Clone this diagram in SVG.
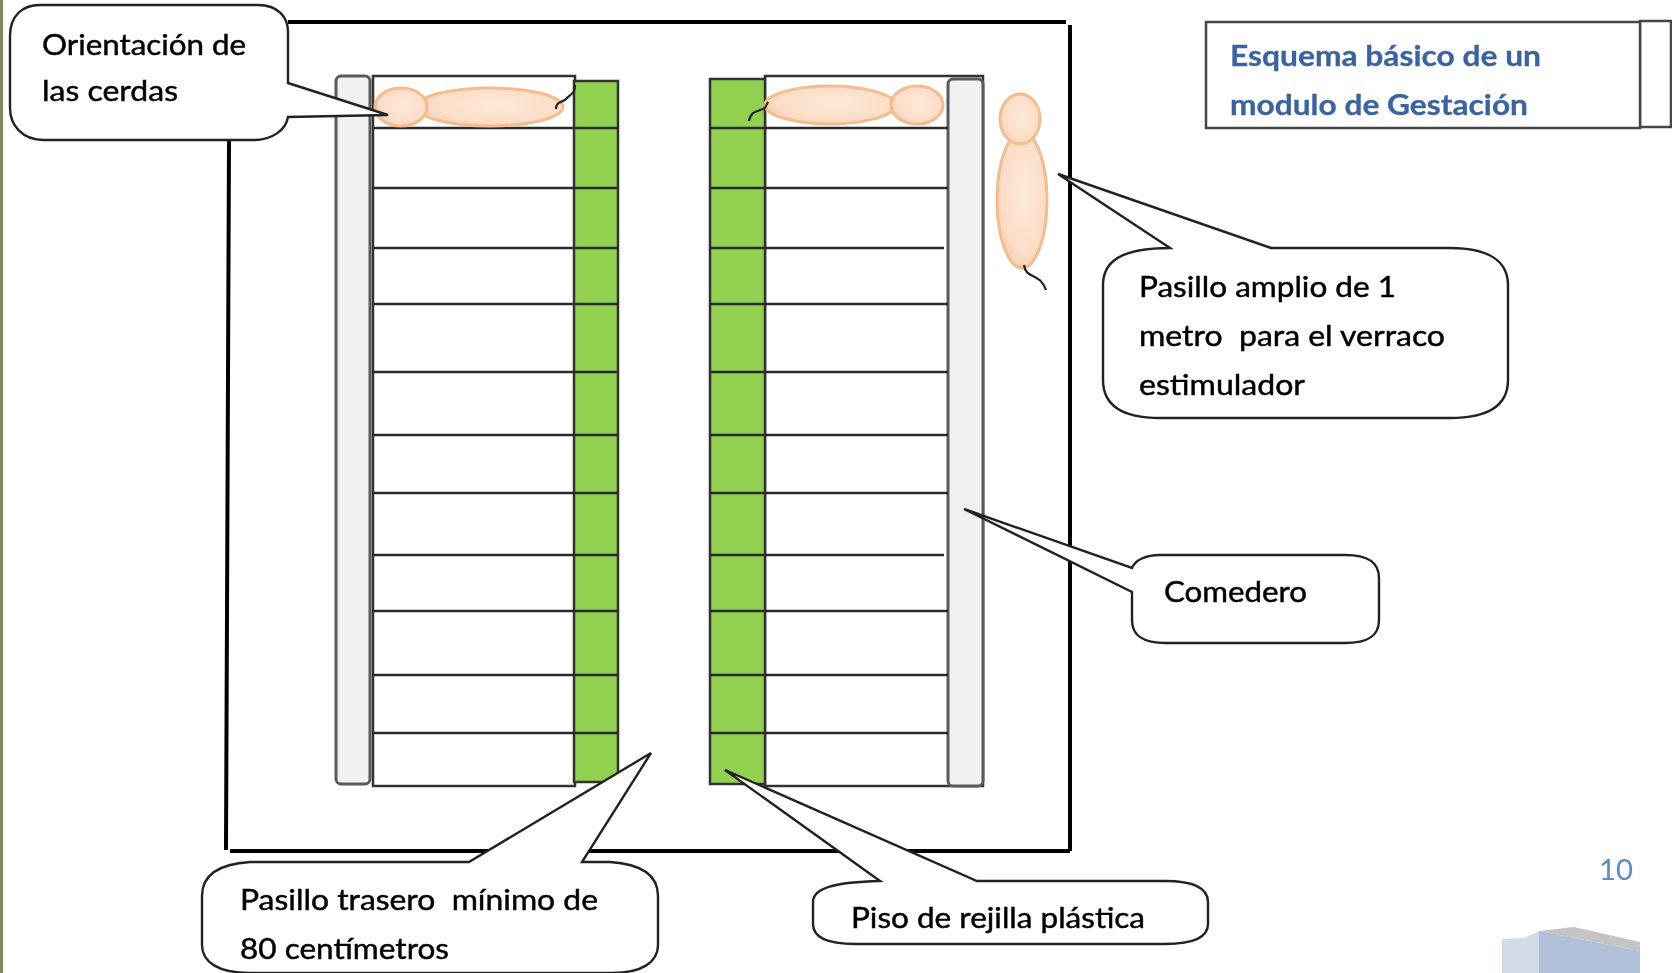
<svg xmlns="http://www.w3.org/2000/svg" width="1672" height="973" viewBox="0 0 1672 973">
<style>
.wall{stroke:#000;stroke-width:4;fill:none}
.bar{fill:#f1f1f1;stroke:#5a5a5a;stroke-width:3}
.green{fill:#92d050;stroke:#333;stroke-width:2.5}
.stall{fill:#fff;stroke:#333;stroke-width:2.5}
.row{stroke:#2a2a2a;stroke-width:2.5;fill:none}
.call{fill:#fff;stroke:#222;stroke-width:2.4}
.pig{fill:url(#skin);stroke:#f3bd90;stroke-width:3}
.tail{fill:none;stroke:#222;stroke-width:2.2}
.t{font-family:"Lato","Carlito","Liberation Sans",sans-serif;font-size:29px;fill:#000;stroke:#000;stroke-width:0.45;white-space:pre}
.h{font-family:"Lato","Carlito","Liberation Sans",sans-serif;font-size:29px;font-weight:700;fill:#3a64a2;stroke:#3a64a2;stroke-width:0.3}
.box{fill:#fff;stroke:#444;stroke-width:2.5}
</style>
<defs>
<radialGradient id="skin" cx="55%" cy="45%" r="60%"><stop offset="0" stop-color="#fde9d9"/><stop offset="0.75" stop-color="#fbddc6"/><stop offset="1" stop-color="#f8cba8"/></radialGradient>
<filter id="soft" x="-2%" y="-2%" width="104%" height="104%"><feGaussianBlur stdDeviation="0.6"/></filter>
</defs>
<rect width="1672" height="973" fill="#fff"/>
<g filter="url(#soft)">
<rect x="0" y="0" width="3" height="973" fill="#7a8c58"/>

<g id="connectors">
<path class="wall" d="M288 22H1066M1070 25V851M1070 851H230M226 850L229 140"/>
</g>

<g id="module-left">
<rect class="bar" x="336" y="76" width="34" height="708" rx="5"/>
<rect class="stall" x="373" y="76" width="202" height="710"/>
<rect class="green" x="574" y="81" width="44" height="701"/>
<path class="row" d="M373 128H618M373 188H618M373 248H618M373 304H618M373 372H618M373 435H618M373 493H618M373 555H618M373 611H618M373 675H618M373 733H618"/>
</g>

<g id="module-right">
<rect class="stall" x="765" y="76" width="218" height="710"/>
<rect class="green" x="710" y="79" width="55" height="705"/>
<rect class="bar" x="948" y="79" width="35" height="707" rx="5"/>
<path class="row" d="M710 128H948M710 188H948M710 248H944M710 304H948M710 372H948M710 435H948M710 493H948M710 555H944M710 611H948M710 675H948M710 733H948"/>
</g>

<g id="pig-left">
<ellipse class="pig" cx="490" cy="107" rx="73" ry="19"/>
<ellipse class="pig" cx="401" cy="107" rx="26" ry="19"/>
<path class="tail" d="M556 109C556 100 563 104 568 97C573 93 575 92 575 85"/>
</g>
<g id="pig-right">
<ellipse class="pig" cx="830" cy="105" rx="65" ry="19"/>
<ellipse class="pig" cx="917" cy="105" rx="26" ry="19"/>
<path class="tail" d="M749 121C751 110 758 112 765 108L768 102"/>
</g>
<g id="pig-walk">
<ellipse class="pig" cx="1022" cy="200" rx="25" ry="68"/>
<ellipse class="pig" cx="1020" cy="119" rx="20" ry="25"/>
<path class="tail" d="M1024 265C1026 280 1040 272 1046 290"/>
</g>

<g id="callout-orientacion">
<path class="call" d="M40 5H258C278 5 288 17 288 32V83L388 115L288 117C286 130 272 140 254 140H44C22 140 10 125 10 108V36C10 16 22 5 40 5Z"/>
<text class="t" x="42" y="55" textLength="204" lengthAdjust="spacingAndGlyphs">Orientación de</text>
<text class="t" x="42" y="101" textLength="136" lengthAdjust="spacingAndGlyphs">las cerdas</text>
</g>

<g id="callout-pasillo-amplio">
<path class="call" d="M1170 248L1058 174L1271 248H1450C1490 248 1508 262 1508 285V380C1508 404 1490 418 1450 418H1160C1120 418 1103 404 1103 380V285C1103 262 1120 248 1170 248Z"/>
<text class="t" x="1139" y="297" textLength="257" lengthAdjust="spacingAndGlyphs">Pasillo amplio de 1</text>
<text class="t" x="1139" y="346" textLength="306" lengthAdjust="spacingAndGlyphs">metro  para el verraco</text>
<text class="t" x="1139" y="395" textLength="166" lengthAdjust="spacingAndGlyphs">estimulador</text>
</g>

<g id="callout-comedero">
<path class="call" d="M1160 555H1345C1368 555 1379 562 1379 578V620C1379 636 1368 643 1345 643H1166C1143 643 1132 636 1132 620V592L964 509L1132 568C1135 560 1146 555 1160 555Z"/>
<text class="t" x="1164" y="602" textLength="143" lengthAdjust="spacingAndGlyphs">Comedero</text>
</g>

<g id="callout-trasero">
<path class="call" d="M469 862L651 753L582 862H610C642 864 658 876 658 896V945C658 962 642 973 612 973H250C218 973 202 962 202 945V896C202 876 218 864 250 862Z"/>
<text class="t" x="240" y="910" textLength="358" lengthAdjust="spacingAndGlyphs">Pasillo trasero  mínimo de</text>
<text class="t" x="240" y="959" textLength="209" lengthAdjust="spacingAndGlyphs">80 centímetros</text>
</g>

<g id="callout-piso">
<path class="call" d="M880 881L725 770L977 881H1165C1195 881 1208 888 1208 902V924C1208 937 1195 944 1165 944H855C826 944 813 937 813 924V902C813 888 835 882 880 881Z"/>
<text class="t" x="851" y="928" textLength="294" lengthAdjust="spacingAndGlyphs">Piso de rejilla plástica</text>
</g>

<g id="title">
<rect class="box" x="1640" y="21" width="31" height="106"/>
<rect class="box" x="1206" y="22" width="434" height="106"/>
<text class="h" x="1230" y="66" textLength="311" lengthAdjust="spacingAndGlyphs">Esquema básico de un</text>
<text class="h" x="1230" y="115" textLength="298" lengthAdjust="spacingAndGlyphs">modulo de Gestación</text>
</g>

<text x="1599" y="880" font-family="Lato,Carlito,sans-serif" font-size="29" fill="#5b8bc9" textLength="34" lengthAdjust="spacingAndGlyphs">10</text>

<polygon points="1502,939 1524,938 1539,931 1539,973 1502,973" fill="#d3dbe7"/>
<polygon points="1539,931 1574,927 1640,942 1640,951" fill="#c4c4c4"/>
<polygon points="1539,931 1640,951 1640,973 1539,973" fill="#b0c0d8"/>
</g>
</svg>
